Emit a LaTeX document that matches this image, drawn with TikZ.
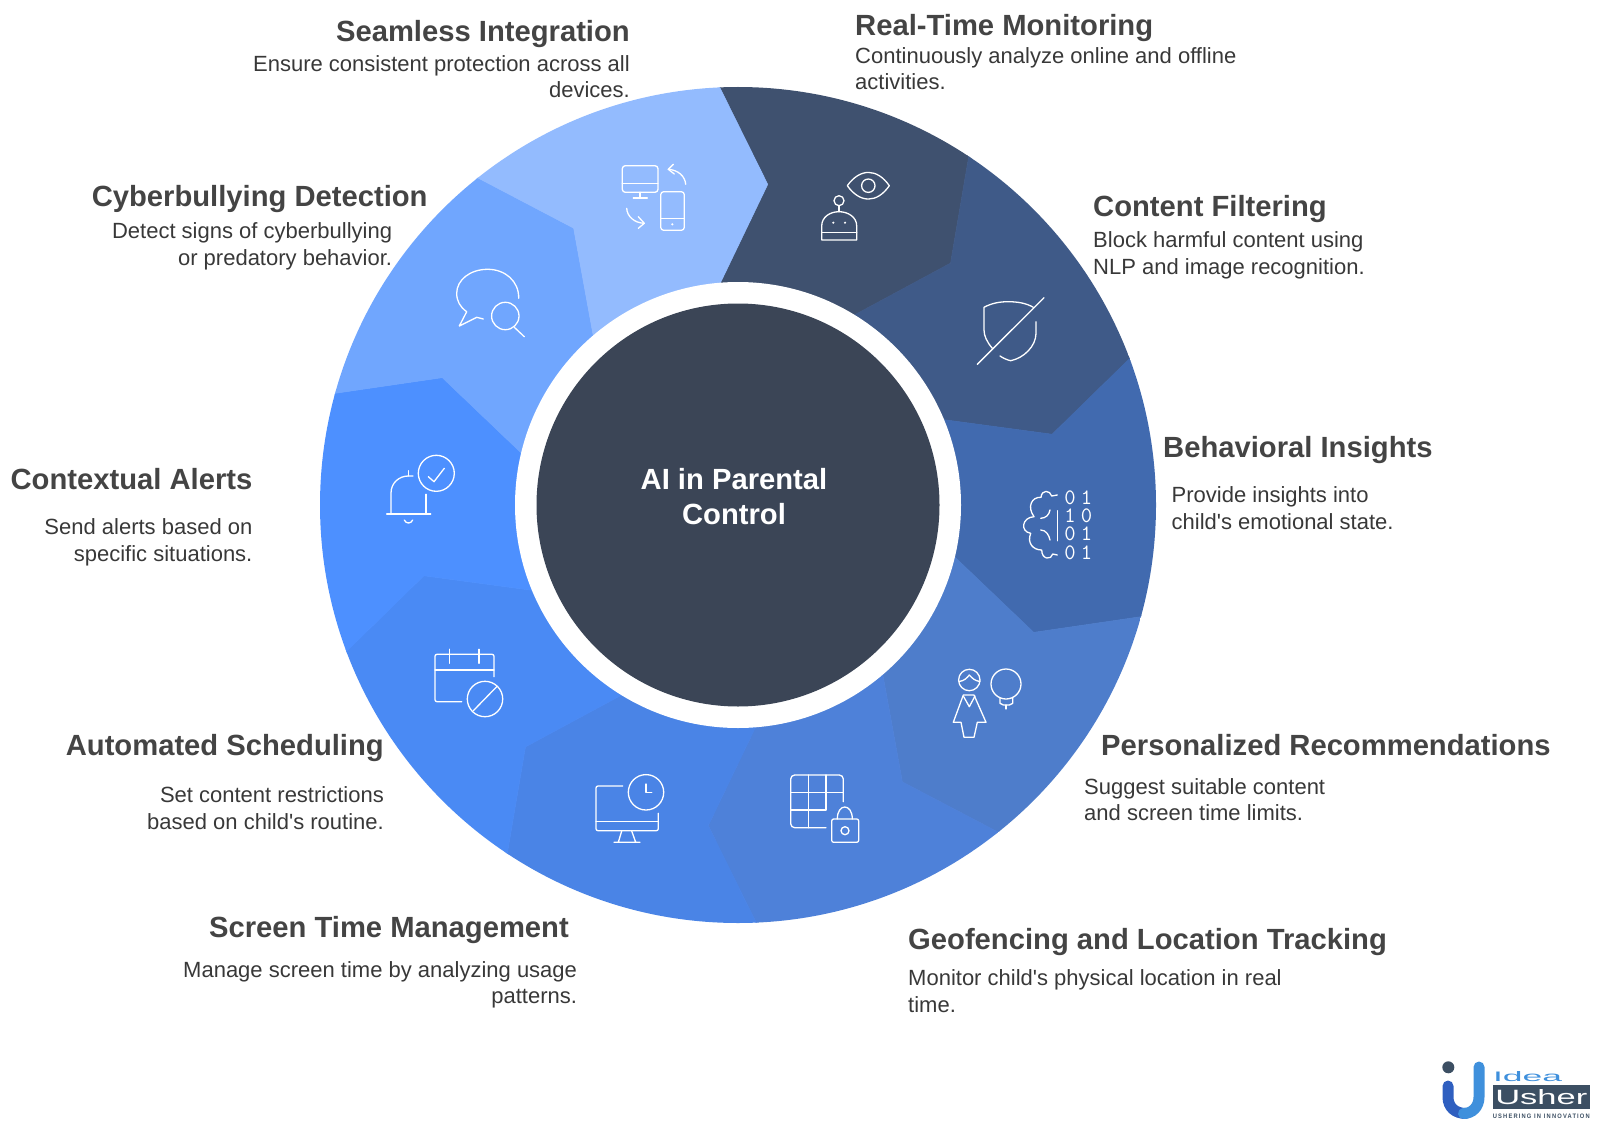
\documentclass[tikz,border=0pt]{standalone}
\usepackage{fontspec}
\setmainfont{Liberation Sans}
\definecolor{segA}{HTML}{3F516F}
\definecolor{segB}{HTML}{3F5A88}
\definecolor{segC}{HTML}{416AAF}
\definecolor{segD}{HTML}{4E7DCB}
\definecolor{segE}{HTML}{4E81D9}
\definecolor{segF}{HTML}{4A84E6}
\definecolor{segG}{HTML}{4A8AF4}
\definecolor{segH}{HTML}{4D90FF}
\definecolor{segI}{HTML}{70A6FE}
\definecolor{segJ}{HTML}{93BBFE}
\definecolor{hubcol}{HTML}{3B4556}
\definecolor{ttlcol}{HTML}{444444}
\definecolor{txtcol}{HTML}{383838}
\definecolor{logodark}{HTML}{3C4F63}
\definecolor{logoblue}{HTML}{3F90DC}
\definecolor{logodeep}{HTML}{2F5FC0}
\begin{document}
\begin{tikzpicture}[x=1pt, y=-1pt,
		ttl/.style={text=ttlcol, inner sep=0pt, font=\fontsize{29.2}{34}\selectfont\bfseries},
		txtr/.style={text=txtcol, inner sep=0pt, anchor=north east, align=right, execute at begin node=\strut, font=\fontsize{22}{26.5}\selectfont},
		txtl/.style={text=txtcol, inner sep=0pt, anchor=north west, align=left, execute at begin node=\strut, font=\fontsize{22}{26.5}\selectfont},
		ico/.style={draw=white, line width=1.3pt, line cap=round, line join=round},
		bit/.style={text=white, inner sep=0pt, align=center, font=\ttfamily\fontsize{22}{18.35}\selectfont}]
	\useasboundingbox (0,0) rectangle (1600,1126);
	\coordinate (c) at (738,505);
	\begin{scope}[shift={(c)}]
		\clip (0,0) circle (418pt);
		\foreach \i/\col in {0/segA,1/segB,2/segC,3/segD,4/segE,5/segF,6/segG,7/segH,8/segI,9/segJ} {
			\pgfmathsetmacro{\a}{-92.5+36*\i}
			\pgfmathsetmacro{\b}{\a+36}
			\filldraw[fill=\col, draw=\col, line width=.5pt] (0,0) -- (\a-2:223) -- (\a+7.8:322) -- (\a:418) -- (\a+18:470) -- (\b:418) -- (\b+7.8:322) -- (\b-2:223) -- cycle;
		}
	\end{scope}
	\node[circle, fill=white, minimum size=446pt, inner sep=0pt] (ring) at (c) {};
	\node[circle, fill=hubcol, minimum size=403pt, inner sep=0pt] (hub) at (c) {};
	\node[text=white, inner sep=0pt, align=center, font=\fontsize{29.2}{35}\selectfont\bfseries] (hubtxt) at (734,496.5) {AI in Parental\\Control};

	\node[ttl, anchor=mid east] (t1) at (630,39.2) {Seamless Integration};
	\node[txtr] (d1) at (630,55.3) {Ensure consistent protection across all\\devices.};
	\node[ttl, anchor=mid west] (t2) at (855,33.2) {Real-Time Monitoring};
	\node[txtl] (d2) at (855,47) {Continuously analyze online and offline\\activities.};
	\node[ttl, anchor=mid west] (t3) at (1093,214.2) {Content Filtering};
	\node[txtl] (d3) at (1093,231.5) {Block harmful content using\\NLP and image recognition.};
	\node[ttl, anchor=mid west] (t4) at (1163,455.2) {Behavioral Insights};
	\node[txtl] (d4) at (1171.5,486.5) {Provide insights into\\child\textquotesingle s emotional state.};
	\node[ttl, anchor=mid west] (t5) at (1101,753.2) {Personalized Recommendations};
	\node[txtl] (d5) at (1084,778) {Suggest suitable content\\and screen time limits.};
	\node[ttl, anchor=mid west] (t6) at (908,947.2) {Geofencing and Location Tracking};
	\node[txtl] (d6) at (908,969.5) {Monitor child\textquotesingle s physical location in real\\time.};
	\node[ttl, anchor=mid east] (t7) at (569,934.7) {Screen Time Management};
	\node[txtr] (d7) at (577.2,961) {Manage screen time by analyzing usage\\patterns.};
	\node[ttl, anchor=mid east] (t8) at (384,753.2) {Automated Scheduling};
	\node[txtr] (d8) at (384,786.5) {Set content restrictions\\based on child\textquotesingle s routine.};
	\node[ttl, anchor=mid east] (t9) at (252.6,486.8) {Contextual Alerts};
	\node[txtr] (d9) at (252.6,518.5) {Send alerts based on\\specific situations.};
	\node[ttl, anchor=mid east] (t10) at (427.8,204.2) {Cyberbullying Detection};
	\node[txtr] (d10) at (392.3,222.5) {Detect signs of cyberbullying\\or predatory behavior.};

	\begin{scope}[ico]
		% devices
		\draw[rounded corners=3pt] (622.3,165.7) rectangle (658,192.3);
		\draw (622.3,183.3) -- (658,183.3);
		\draw (640,192.3) -- (640,198) (633.3,198) -- (647.3,198);
		\draw[rounded corners=3pt] (660.7,191.7) rectangle (684.3,230.3);
		\draw (660.7,218.3) -- (684.3,218.3);
		\fill[white] (672.3,224.3) circle (1.2pt);
		\draw (685.7,184.3) .. controls (685,176) and (678,170) .. (668.3,169.3);
		\draw (673.3,164.3) -- (668.3,169.3) -- (674.3,174);
		\draw (626.7,208.3) .. controls (627,216) and (634,223) .. (644.3,223.3);
		\draw (638.3,216.7) -- (644.3,223.3) -- (638.3,228.3);
		% eye and robot
		\draw (847.3,185.7) .. controls (860,168) and (877,168) .. (889.3,185.7) .. controls (877,203.5) and (860,203.5) .. cycle;
		\draw (868.3,185.7) circle (6.7pt);
		\draw (839,200.7) circle (5pt);
		\draw (839,205.7) -- (839,211.7);
		\draw (821.7,240) -- (821.7,226) .. controls (821.7,217) and (830,211.7) .. (839,211.7) .. controls (848,211.7) and (856.7,217) .. (856.7,226) -- (856.7,240) -- cycle;
		\draw (821.7,232.3) -- (856.7,232.3);
		\fill[white] (833.3,222.7) circle (1.2pt) (845,222.7) circle (1.2pt);
		% shield
		\draw (992.3,348.3) .. controls (987,342) and (984,336) .. (984,330) -- (984,307.3) .. controls (992,303) and (1000,301.7) .. (1008.3,301.7) .. controls (1017,301.7) and (1026,303) .. (1033.3,307.3);
		\draw (1036,321.7) -- (1036,333.3) .. controls (1036,346) and (1024,358) .. (1010.7,360.7) .. controls (1007,360) and (1003,358) .. (1000,356);
		\draw (1044,297.7) -- (977.3,364.3);
		% brain
		\draw (1057.3,495) -- (1051.7,496) .. controls (1050,490) and (1041.7,489.3) .. (1041,497.3) .. controls (1031.7,496.7) and (1026.7,506.7) .. (1034,516.7) .. controls (1021.7,517.3) and (1020,531.7) .. (1030.7,533.3) .. controls (1026.7,543.3) and (1033.3,550) .. (1041.7,550) .. controls (1041.7,560) and (1051.7,560) .. (1052.7,554) -- (1057.3,555);
		\draw (1040.7,518.3) .. controls (1046,518) and (1049,515) .. (1050,510);
		\draw (1040.7,530) .. controls (1046,530) and (1049,535) .. (1050,540);
		\draw (1057.3,510.7) -- (1057.3,540.7);
		% woman and bulb
		\draw (969.3,680) circle (10.7pt);
		\draw (959,681.5) .. controls (964,681) and (967,678) .. (969.3,675) .. controls (972,678) and (975,681) .. (980,681.5);
		\draw (963.3,695) -- (974,695) -- (986,722.3) -- (977.3,722.3) -- (974,737.3) -- (964,737.3) -- (961,722.3) -- (953.3,722.3) -- cycle;
		\draw (963.3,696) -- (969.3,706.7) -- (975,696);
		\draw (1006,684) circle (15pt);
		\draw (1000,697.7) -- (1000,703.3) -- (1003.3,705) -- (1009.3,705) -- (1012.7,703.3) -- (1012.7,697.7);
		\draw (1006,705) -- (1006,709);
		% grid and lock
		\draw[rounded corners=4pt] (826,827.7) -- (790.7,827.7) -- (790.7,775) -- (843.3,775) -- (843.3,801.7);
		\draw (790.7,792.7) -- (843.3,792.7) (790.7,810) -- (826,810) -- (826,775) (808.7,775) -- (808.7,827.7);
		\draw[rounded corners=2pt] (831.7,819) rectangle (858.7,842.3);
		\draw (837.3,819) .. controls (837.3,803) and (852.3,803) .. (852.3,819);
		\draw (845,830.7) circle (4pt);
		% monitor and clock
		\draw[rounded corners=2pt] (622.7,786) -- (596,786) -- (596,830.7) -- (658.3,830.7) -- (658.3,813.3);
		\draw (596,821.7) -- (658.3,821.7);
		\draw (621.7,831) -- (618.3,842.3) (631.7,831) -- (635.7,842.3) (614,842.3) -- (640,842.3);
		\draw (646,792.3) circle (17.7pt);
		\draw (646,784) -- (646,792.3) -- (651.7,792.3);
		% calendar
		\draw[rounded corners=2pt] (461.7,701.7) -- (435,701.7) -- (435,654.3) -- (494,654.3) -- (494,676.7);
		\draw (435,670) -- (494,670) (449.3,649.3) -- (449.3,663.3) (479,649.3) -- (479,663.3);
		\draw (485,699) circle (17.7pt);
		\draw (473.3,710.7) -- (496.7,686.7);
		% bell
		\draw (436.3,473.3) circle (18pt);
		\draw (428.3,476.7) -- (434,481.7) -- (444.3,468.3);
		\draw (386.7,514) -- (430.7,514);
		\draw (391,514) -- (391,493) .. controls (391,483) and (399,476) .. (408.3,476) -- (413,476);
		\draw (408.3,470.7) -- (408.3,476);
		\draw (426,494.3) -- (426,514);
		\draw (404.3,520) .. controls (406,524) and (411,524) .. (412.7,520);
		% bubble
		\draw (518.7,298.3) .. controls (519,281) and (505,269.3) .. (487.7,269.3) .. controls (470,269.3) and (456.7,280) .. (456.7,293.3) .. controls (456.7,301) and (460,307) .. (466.7,311.7) -- (459.3,326) -- (476.7,317.3) -- (483.3,319);
		\draw (505.3,316) circle (13.7pt);
		\draw (514.3,327.3) -- (524.3,336.7);
	\end{scope}
	\node[bit] (bits) at (1078.3,524.8) {0\kern5pt 1\\1\kern5pt 0\\0\kern5pt 1\\0\kern5pt 1};

	\fill[logodark] (1448.3,1067.3) circle (6pt);
	\draw[logodeep, line width=11pt, line cap=round] (1448,1086) -- (1448,1097) .. controls (1448,1107) and (1455,1113.5) .. (1466,1113.5);
	\draw[logoblue, line width=11pt, line cap=round] (1479,1067) -- (1479,1097) .. controls (1479,1107) and (1472,1113.5) .. (1463.5,1113.5);
	\node[text=logoblue, inner sep=0pt] (idea) at (1527.5,1076.5) {\resizebox{69pt}{10pt}{Idea}};
	\node[fill=logodark, text=white, minimum width=97pt, minimum height=24pt, inner sep=0pt] (usher) at (1541.3,1097) {\resizebox{92pt}{15pt}{Usher}};
	\node[text=logodark, inner sep=0pt] (motto) at (1541.3,1116) {\resizebox{97pt}{4.5pt}{\bfseries\addfontfeature{LetterSpace=20.0}USHERING IN INNOVATION}};
\end{tikzpicture}
\end{document}
